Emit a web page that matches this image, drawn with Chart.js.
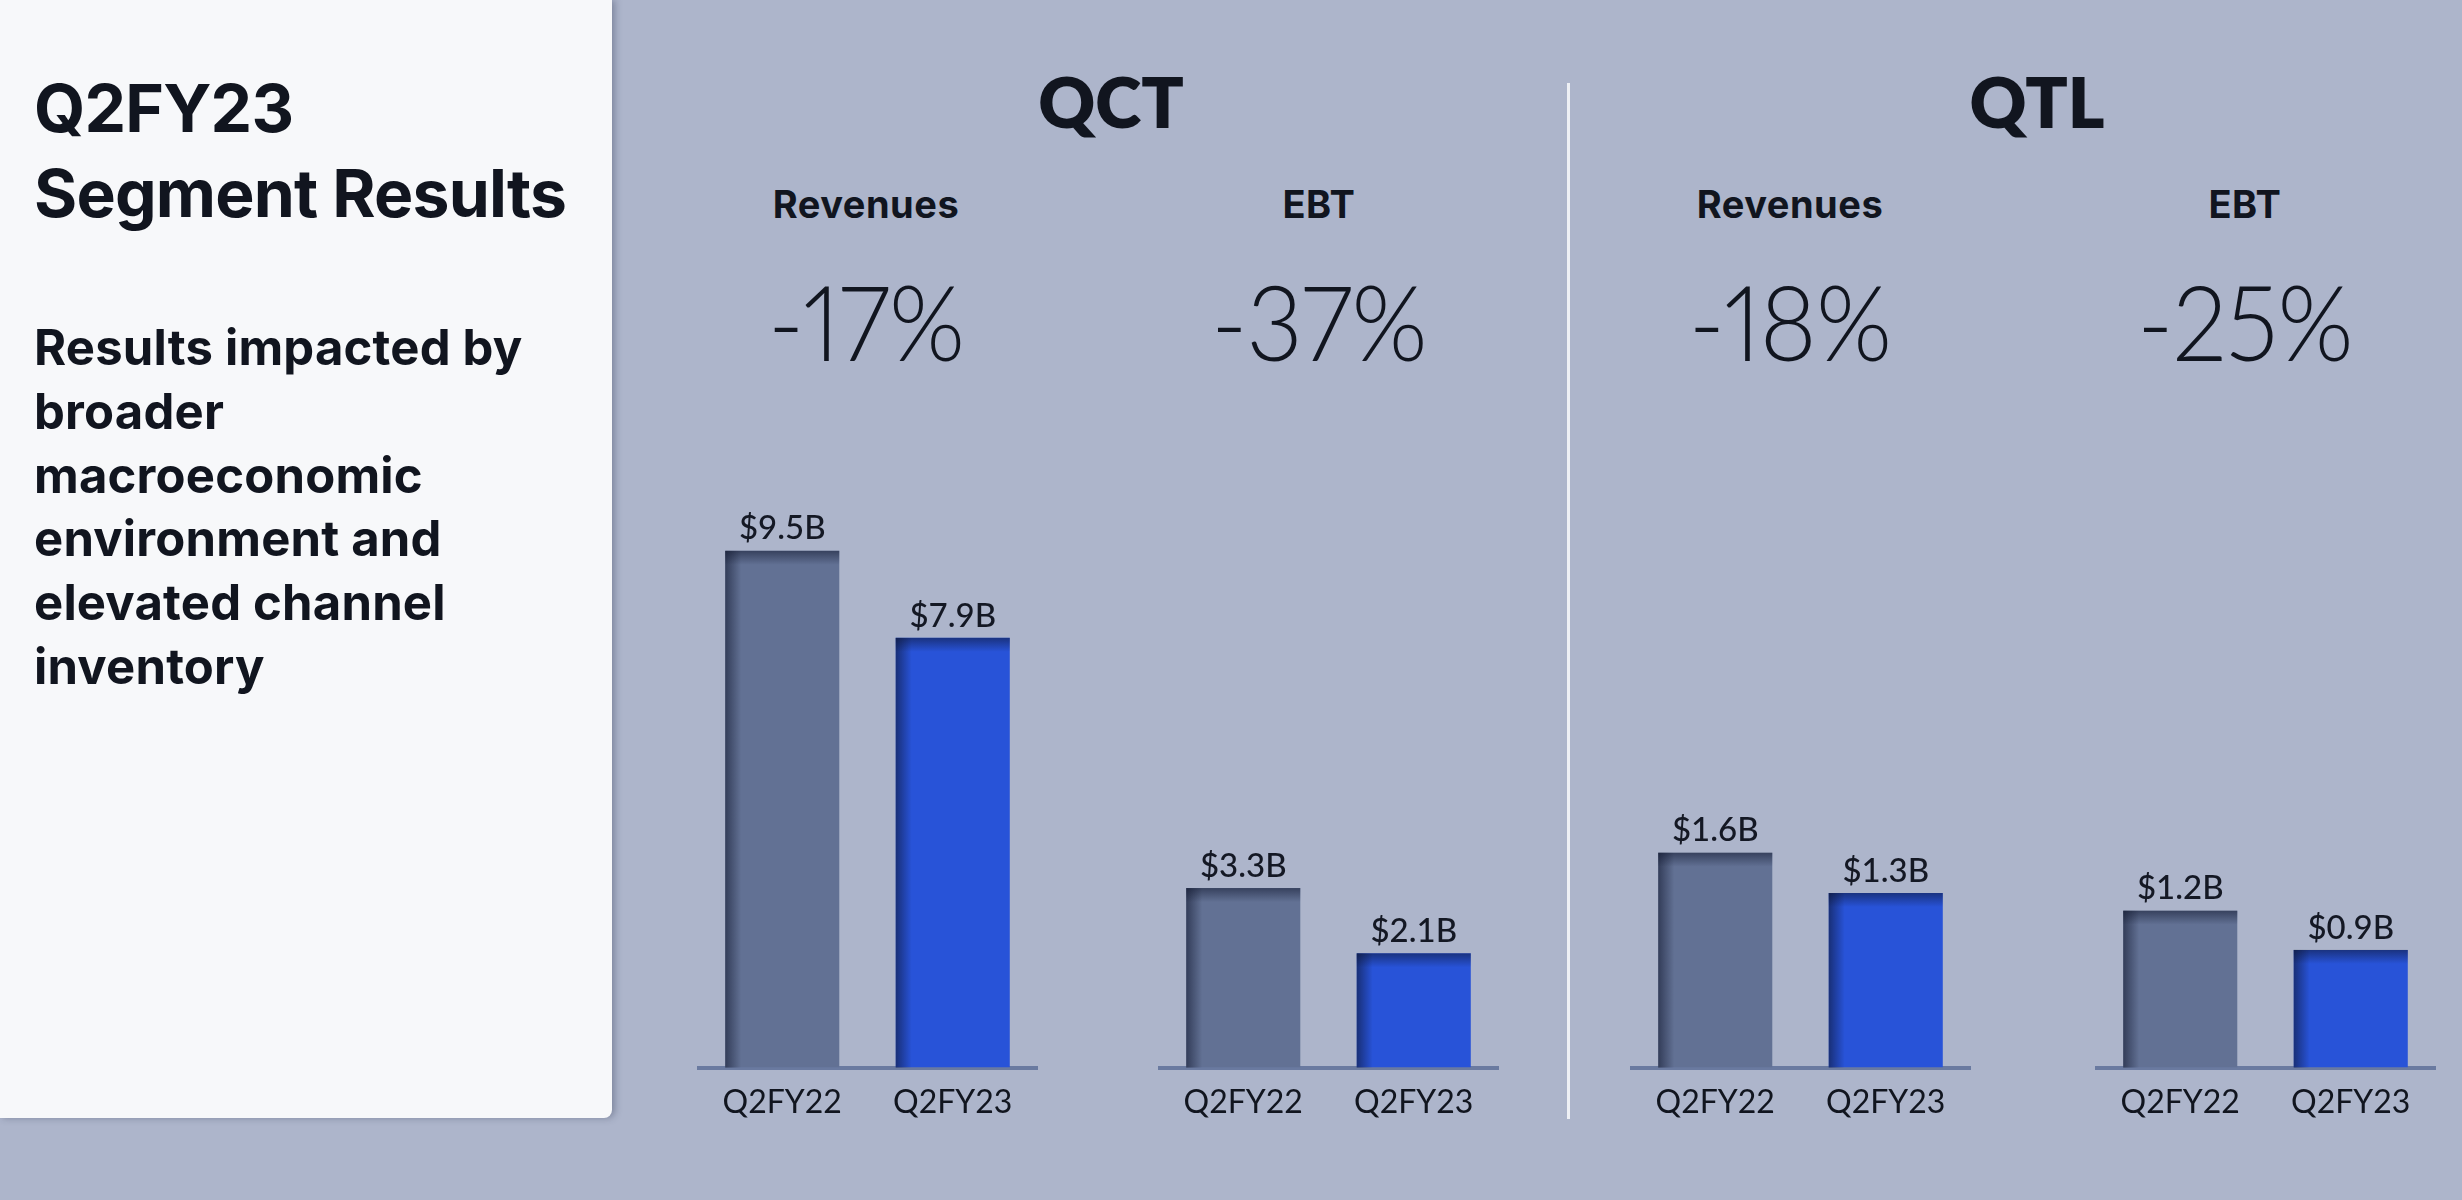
<!DOCTYPE html>
<html>
<head>
<meta charset="utf-8">
<script src="https://cdn.jsdelivr.net/npm/chart.js@4.4.1/dist/chart.umd.min.js"></script>
<style>
  html, body { margin: 0; padding: 0; }
  body { width: 2462px; height: 1200px; background: #adb5cb; position: relative; overflow: hidden;
         font-family: 'Inter', 'Lato', sans-serif; color: #11151f; }
  .panel { position: absolute; left: 0; top: 0; width: 612px; height: 1118px; background: #f7f8fa;
           border-bottom-right-radius: 8px; box-shadow: 3px 0 7px rgba(40, 50, 75, 0.35); }
  .title { position: absolute; left: 34px; top: 66px; font-size: 66px; font-weight: 700; line-height: 85px; letter-spacing: -0.8px; }
  .sub { position: absolute; left: 34px; top: 316px; font-size: 49px; font-weight: 700; line-height: 63.8px; letter-spacing: 0.2px; }
  .lbl { position: absolute; width: 600px; text-align: center; line-height: 1; white-space: nowrap; }
  .seg { font-family: 'Lato'; font-size: 70px; font-weight: 800; top: 66px; }
  .metric { font-size: 38px; font-weight: 700; top: 185px; letter-spacing: 0.5px; }
  .pct { font-family: 'Lato'; font-size: 105px; font-weight: 300; top: 268px; letter-spacing: -1px;
         font-variant-numeric: proportional-nums; transform: scaleX(0.93); }
  .divider { position: absolute; left: 1567px; top: 83px; width: 3px; height: 1036px; background: #eef0f5; }
  canvas { position: absolute; }
</style>
</head>
<body>
<div class="panel"></div>
<div class="title">Q2FY23<br>Segment Results</div>
<div class="sub">Results impacted by<br>broader<br>macroeconomic<br>environment and<br>elevated channel<br>inventory</div>
<div class="divider"></div>

<canvas id="c0" width="341" height="715" style="left:697px;top:420px"></canvas>
<canvas id="c1" width="341" height="715" style="left:1158px;top:420px"></canvas>
<canvas id="c2" width="341" height="715" style="left:1630px;top:420px"></canvas>
<canvas id="c3" width="341" height="715" style="left:2095px;top:420px"></canvas>

<script>
const segments = ['QCT', 'QTL'];
const metrics = ['Revenues', 'EBT'];
const periods = ['Q2FY22', 'Q2FY23'];
const qctRevenues = [9.5, 7.9];
const qctEbt = [3.3, 2.1];
const qtlRevenues = [1.6, 1.3];
const qtlEbt = [1.2, 0.9];
const changes = ['-17%', '-37%', '-18%', '-25%'];

// headings
const segCenters = [1111, 2037];
const metricCenters = [866, 1319, 1790, 2245];

segments.forEach((s, i) => {
  const d = document.createElement('div');
  d.className = 'lbl seg';
  d.style.left = (segCenters[i] - 300) + 'px';
  d.textContent = s;
  document.body.appendChild(d);
});

metricCenters.forEach((cx, i) => {
  const m = document.createElement('div');
  m.className = 'lbl metric';
  m.style.left = (cx - 300) + 'px';
  m.textContent = metrics[i % 2];
  document.body.appendChild(m);

  const p = document.createElement('div');
  p.className = 'lbl pct';
  p.style.left = (cx - 300) + 'px';
  p.textContent = changes[i];
  document.body.appendChild(p);
});

// inner shadow on left/top edge of bars + value labels
const barDecor = {
  id: 'barDecor',
  afterDatasetsDraw(chart) {
    const ctx = chart.ctx;
    const meta = chart.getDatasetMeta(0);
    const values = chart.data.datasets[0].data;
    meta.data.forEach((bar, i) => {
      const left = bar.x - bar.width / 2;
      const top = bar.y;
      const h = bar.base - bar.y;
      ctx.save();
      let g = ctx.createLinearGradient(left, 0, left + 16, 0);
      g.addColorStop(0, 'rgba(12, 18, 40, 0.55)');
      g.addColorStop(1, 'rgba(12, 18, 40, 0)');
      ctx.fillStyle = g;
      ctx.fillRect(left, top, 16, h);
      g = ctx.createLinearGradient(0, top, 0, top + 14);
      g.addColorStop(0, 'rgba(12, 18, 40, 0.5)');
      g.addColorStop(1, 'rgba(12, 18, 40, 0)');
      ctx.fillStyle = g;
      ctx.fillRect(left, top, bar.width, 14);

      ctx.fillStyle = '#141824';
      ctx.font = '500 33px Lato';
      ctx.textAlign = 'center';
      ctx.textBaseline = 'middle';
      ctx.fillText('$' + values[i].toFixed(1) + 'B', bar.x, top - 22);
      ctx.restore();
    });
  }
};

const AXIS_Y = 1068;     // page y of the baseline
const AREA_H = 648;      // plot height

function makeChart(id, values, yMax) {
  const canvas = document.getElementById(id);
  const chart = new Chart(canvas, {
    type: 'bar',
    data: {
      labels: periods,
      datasets: [{
        data: values,
        backgroundColor: ['#627194', '#2853d8'],
        borderWidth: 0,
        barPercentage: 0.669,
        categoryPercentage: 1
      }]
    },
    options: {
      responsive: false,
      animation: false,
      layout: { padding: 0 },
      plugins: { legend: { display: false }, tooltip: { enabled: false } },
      scales: {
        x: {
          z: 1,
          grid: { display: false, drawTicks: false },
          border: { display: true, color: '#6a7aa0', width: 4 },
          ticks: { color: '#11151f', font: { family: 'Lato', size: 32 }, padding: 16 }
        },
        y: { display: false, min: 0, max: yMax }
      }
    },
    plugins: [barDecor]
  });
  // fit the plot area to the wanted height, then line the baseline up
  const ca = chart.chartArea;
  const axisH = canvas.height - ca.bottom;
  chart.resize(341, ca.top + AREA_H + axisH);
  canvas.style.top = (AXIS_Y - chart.chartArea.bottom) + 'px';
  return chart;
}

makeChart('c0', qctRevenues, 11.85);
makeChart('c1', qctEbt, 11.85);
makeChart('c2', qtlRevenues, 4.8);
makeChart('c3', qtlEbt, 4.93);
</script>
</body>
</html>
